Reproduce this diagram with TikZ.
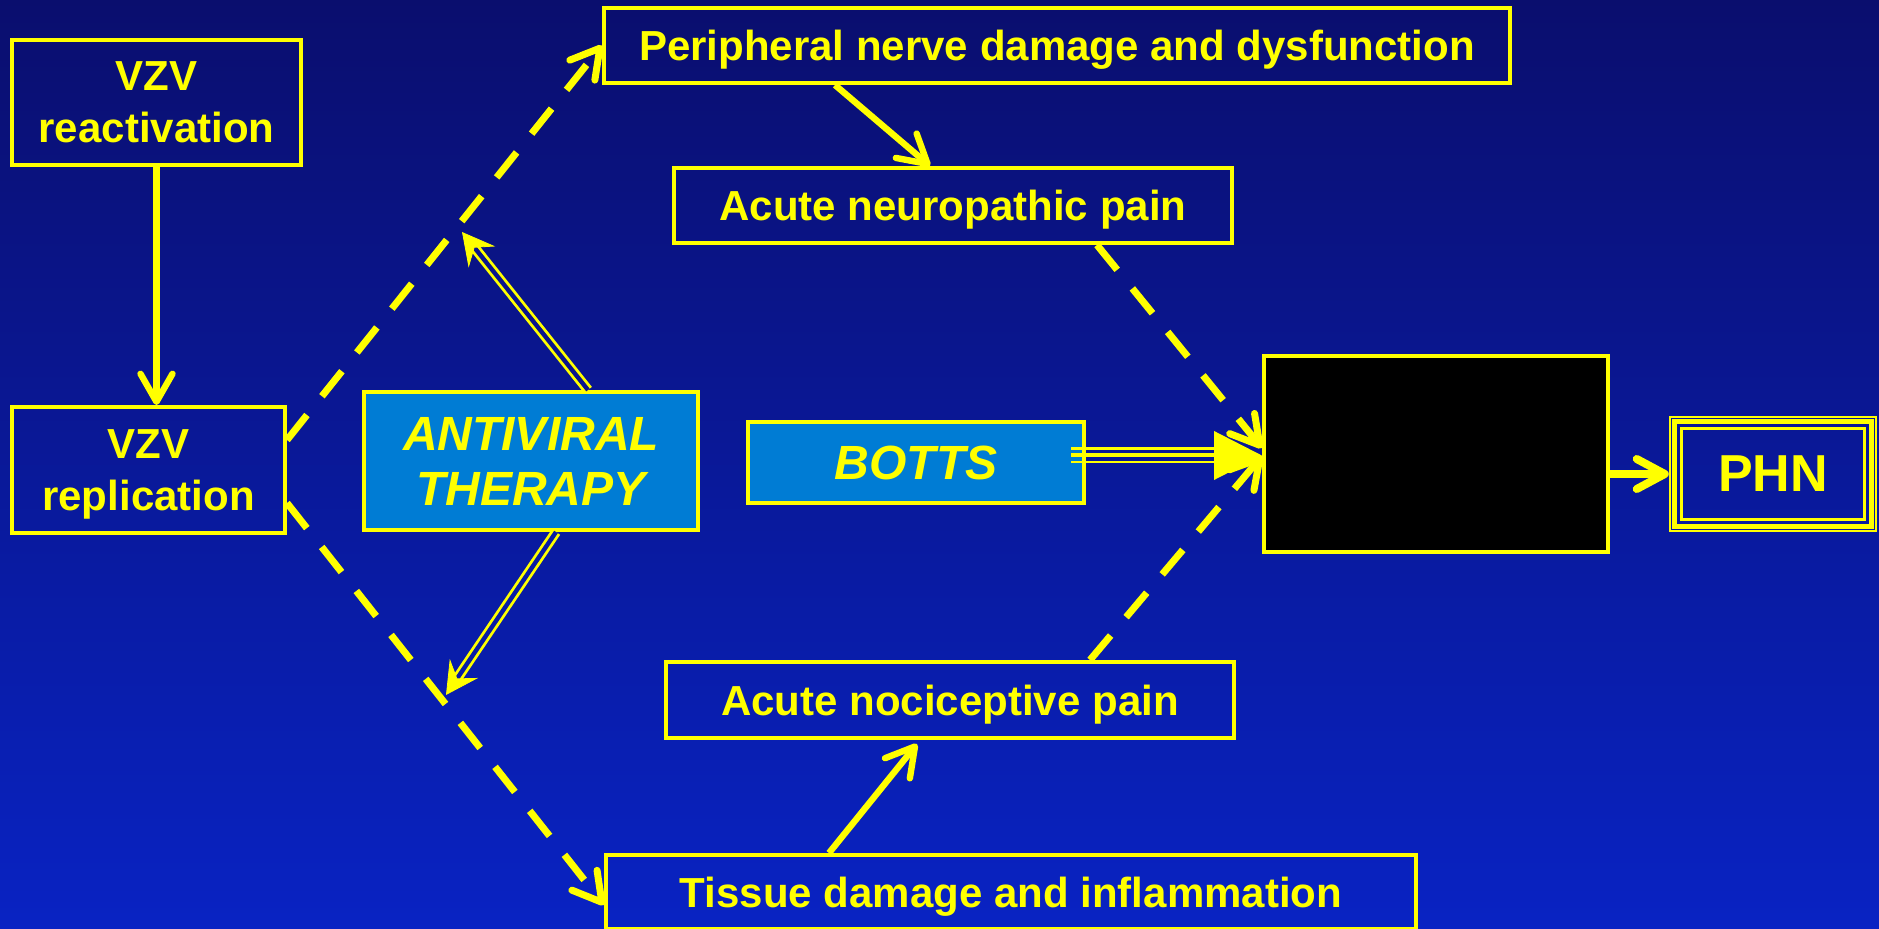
\documentclass[tikz,border=0pt]{standalone}
\usepackage{fontspec}
\setmainfont{Liberation Sans}
\usetikzlibrary{arrows.meta,calc}
\definecolor{bgtop}{RGB}{10,14,110}
\definecolor{bgbot}{RGB}{9,35,195}
\definecolor{drugblue}{RGB}{0,124,212}
\definecolor{hiyellow}{RGB}{255,255,0}
\colorlet{gapup}{bgtop!65!bgbot}
\colorlet{gapdn}{bgtop!35!bgbot}
\begin{document}
\begin{tikzpicture}[x=0.5pt,y=-0.5pt,
  stage/.style={draw=hiyellow,line width=2pt,text=hiyellow,inner sep=0pt,align=center,text depth=0pt,
    font=\bfseries\fontsize{21}{26}\selectfont},
  drug/.style={stage,fill=drugblue,font=\bfseries\itshape\fontsize{24}{27.5}\selectfont},
  barb/.style={-{Straight Barb[length=14pt,width=16pt,round]}},
  cause/.style={draw=hiyellow,line width=3.2pt,barb},
  maybe/.style={draw=hiyellow,line width=3.5pt,dash pattern=on 16pt off 12pt,barb},
  shaft/.style={draw=hiyellow,line width=1.4pt,double distance=2.2pt,shorten >=8pt},
  head/.style={line width=0.4pt,-{Stealth[length=16pt,width=17pt,inset=6pt,color=hiyellow]}},
  rail/.style={draw=hiyellow,line width=1.2pt}]
  \useasboundingbox (0,0) rectangle (1879,929);
  \shade[top color=bgtop,bottom color=bgbot] (0,0) rectangle (1879,929);
  % boxes
  \node[stage,minimum width=144.5pt,minimum height=62.5pt] (react) at (156.5,102.5) {VZV\\reactivation};
  \node[stage,minimum width=136.5pt,minimum height=63pt] (repl) at (148.5,470) {VZV\\replication};
  \node[drug,minimum width=167pt,minimum height=69pt] (anti) at (531,461) {ANTIVIRAL\\THERAPY};
  \node[stage,minimum width=453pt,minimum height=37.5pt] (perip) at (1057,45.5) {Peripheral nerve damage and dysfunction};
  \node[stage,minimum width=279pt,minimum height=37.5pt] (neuro) at (953,205.5) {Acute neuropathic pain};
  \node[drug,minimum width=168pt,minimum height=40.5pt] (botts) at (916,462.5) {BOTTS};
  \node[stage,fill=black,minimum width=172pt,minimum height=98pt] (blackbox) at (1436,454) {};
  \node[stage,minimum width=284pt,minimum height=38pt] (noci) at (950,700) {Acute nociceptive pain};
  \node[stage,minimum width=405pt,minimum height=37pt] (tissue) at (1011,892) {Tissue damage and inflammation};
  \node[stage,line width=1.25pt,minimum width=103pt,minimum height=57pt,
    font=\bfseries\fontsize{26}{30}\selectfont] (phn) at (1773,474) {PHN};
  \draw[hiyellow,line width=2.5pt] ([shift={(3pt,3pt)}]phn.south west) rectangle ([shift={(-3pt,-3pt)}]phn.north east);
  \draw[hiyellow,line width=1.5pt] ([shift={(6.5pt,6.5pt)}]phn.south west) rectangle ([shift={(-6.5pt,-6.5pt)}]phn.north east);
  % connectors
  \draw[cause] (react.south) -- (react.south |- repl.north);
  \draw[maybe] ([yshift=15pt]repl.east) -- (perip.west);
  \draw[maybe] ([yshift=-16.5pt]repl.east) -- ([yshift=-6.5pt]tissue.west);
  \draw[cause] ([xshift=-111pt]perip.south) -- ([xshift=-11.5pt]neuro.north);
  \draw[cause] ([xshift=-91pt]tissue.north) -- ([xshift=-16.5pt,yshift=-2pt]noci.south);
  \draw[maybe] ([xshift=72pt]neuro.south) -- ([yshift=3pt]blackbox.west);
  \draw[maybe] ([xshift=70pt]noci.north) -- ([yshift=-1pt]blackbox.west);
  \draw[hiyellow,line width=4pt,-{Straight Barb[length=14pt,width=15pt,round]}] (blackbox.east |- phn) -- (phn.west);
  % antiviral arrows
  \coordinate (upS) at ([xshift=28.5pt]anti.north);
  \coordinate (upT) at (462,232);
  \coordinate (dnS) at ([xshift=12.5pt]anti.south);
  \coordinate (dnT) at (446,695);
  \draw[shaft,double=gapup] (upS) -- (upT);
  \draw[head,draw=gapup] ($(upT)!20pt!(upS)$) -- (upT);
  \draw[shaft,double=gapdn] (dnS) -- (dnT);
  \draw[head,draw=gapdn] ($(dnT)!20pt!(dnS)$) -- (dnT);
  % botts arrow
  \coordinate (bS) at ([xshift=-7.5pt,yshift=3.5pt]botts.east);
  \coordinate (bT) at (blackbox.west |- bS);
  \draw[rail,line width=2pt,-{Triangle[length=24pt,width=24pt]}] (bS) -- (bT);
  \foreach \dy in {-3.4pt,3.4pt}
    \draw[rail,shorten >=20pt] ([yshift=\dy]bS) -- ([yshift=\dy]bT);
\end{tikzpicture}
\end{document}
